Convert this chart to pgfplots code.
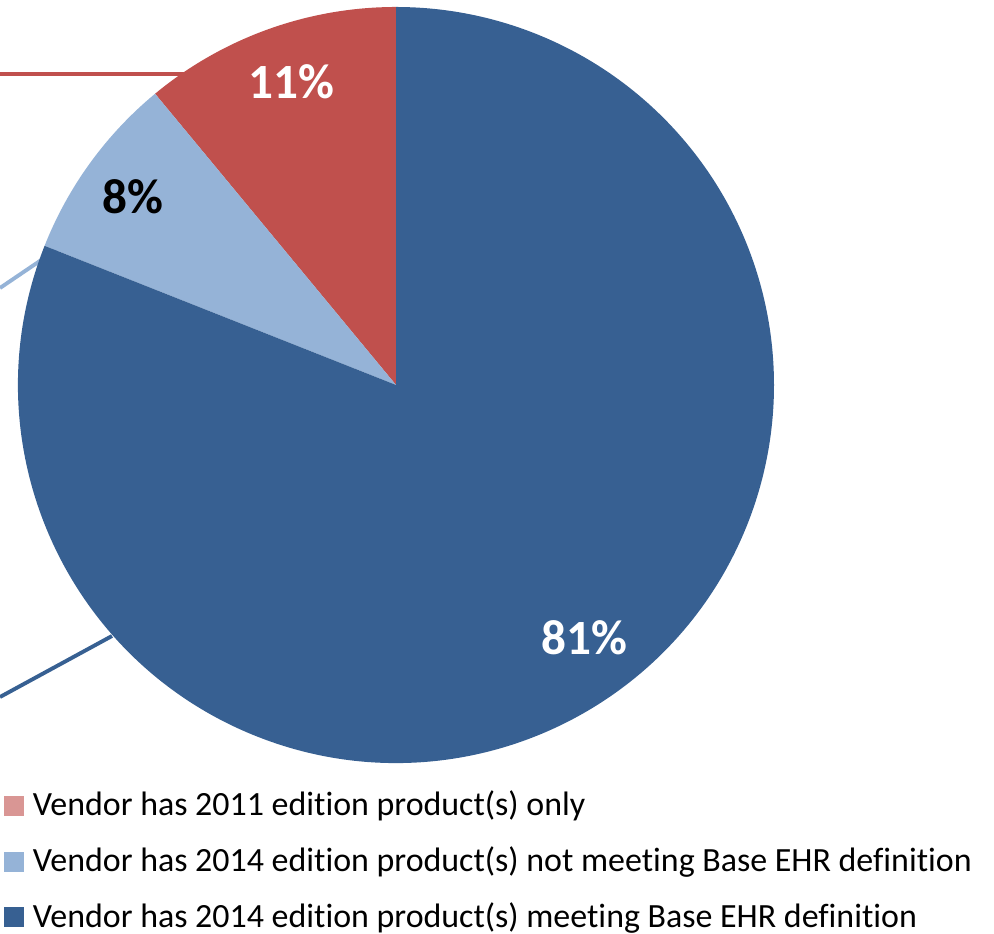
\documentclass[border=0pt]{standalone}
\usepackage{pgfplots}
\pgfplotsset{compat=1.18}
\usepackage{fontspec}
\setmainfont{Carlito}[Ligatures=NoCommon]

\definecolor{pred}{HTML}{C0504D}
\definecolor{plblue}{HTML}{95B3D7}
\definecolor{pdblue}{HTML}{376092}
\definecolor{legred}{HTML}{D99694}

% slice: start percent, end percent, colour (centre and radius in pixel units of the axis)
\newcommand\slice[3]{%
  \fill[#3] (axis cs:396,-385) -- ++({90+3.6*#1}:3.78cm)
    arc[start angle={90+3.6*#1}, end angle={90+3.6*#2}, radius=3.78cm] -- cycle;}

\begin{document}
\begin{tikzpicture}
\begin{axis}[
    scale only axis,
    width=9.94cm, height=9.33cm,
    xmin=0, xmax=994, ymin=-933, ymax=0,
    enlargelimits=false,
    hide axis,
    clip=false,
    legend cell align=left,
    legend image code/.code={\fill[#1] (0cm,-0.1cm) rectangle (0.2cm,0.1cm);},
    legend style={at={(axis cs:3,-783)}, anchor=north west, draw=none, fill=none,
        font=\fontsize{9.65}{11}\selectfont, inner sep=0pt, row sep=3.3pt,
        /tikz/every odd column/.append style={column sep=0.6pt}},
]
    % leader lines
    \draw[pred, line width=1.1pt] (axis cs:0,-74) -- (axis cs:185,-74);
    \draw[plblue, line width=1.1pt] (axis cs:0,-288) -- (axis cs:62,-246);
    \draw[pdblue, line width=1.1pt] (axis cs:0,-697) -- (axis cs:112,-636);

    % shares in percent: 11, 8, 81
    \slice{0}{11}{pred}
    \slice{11}{19}{plblue}
    \slice{19}{100}{pdblue}

    \node[text=white, font=\fontsize{14}{16}\selectfont\bfseries] at (axis cs:291,-82) {11\%};
    \node[text=black, font=\fontsize{14}{16}\selectfont\bfseries] at (axis cs:133,-197) {8\%};
    \node[text=white, font=\fontsize{14}{16}\selectfont\bfseries] at (axis cs:584,-638) {81\%};

    \addlegendimage{fill=legred, draw=none}
    \addlegendentry{Vendor has 2011 edition product(s) only}
    \addlegendimage{fill=plblue, draw=none}
    \addlegendentry{Vendor has 2014 edition product(s) not meeting Base EHR definition}
    \addlegendimage{fill=pdblue, draw=none}
    \addlegendentry{Vendor has 2014 edition product(s) meeting Base EHR definition}
\end{axis}
\pgfresetboundingbox
\useasboundingbox (0,0) rectangle (9.94cm,9.33cm);
\end{tikzpicture}
\end{document}
